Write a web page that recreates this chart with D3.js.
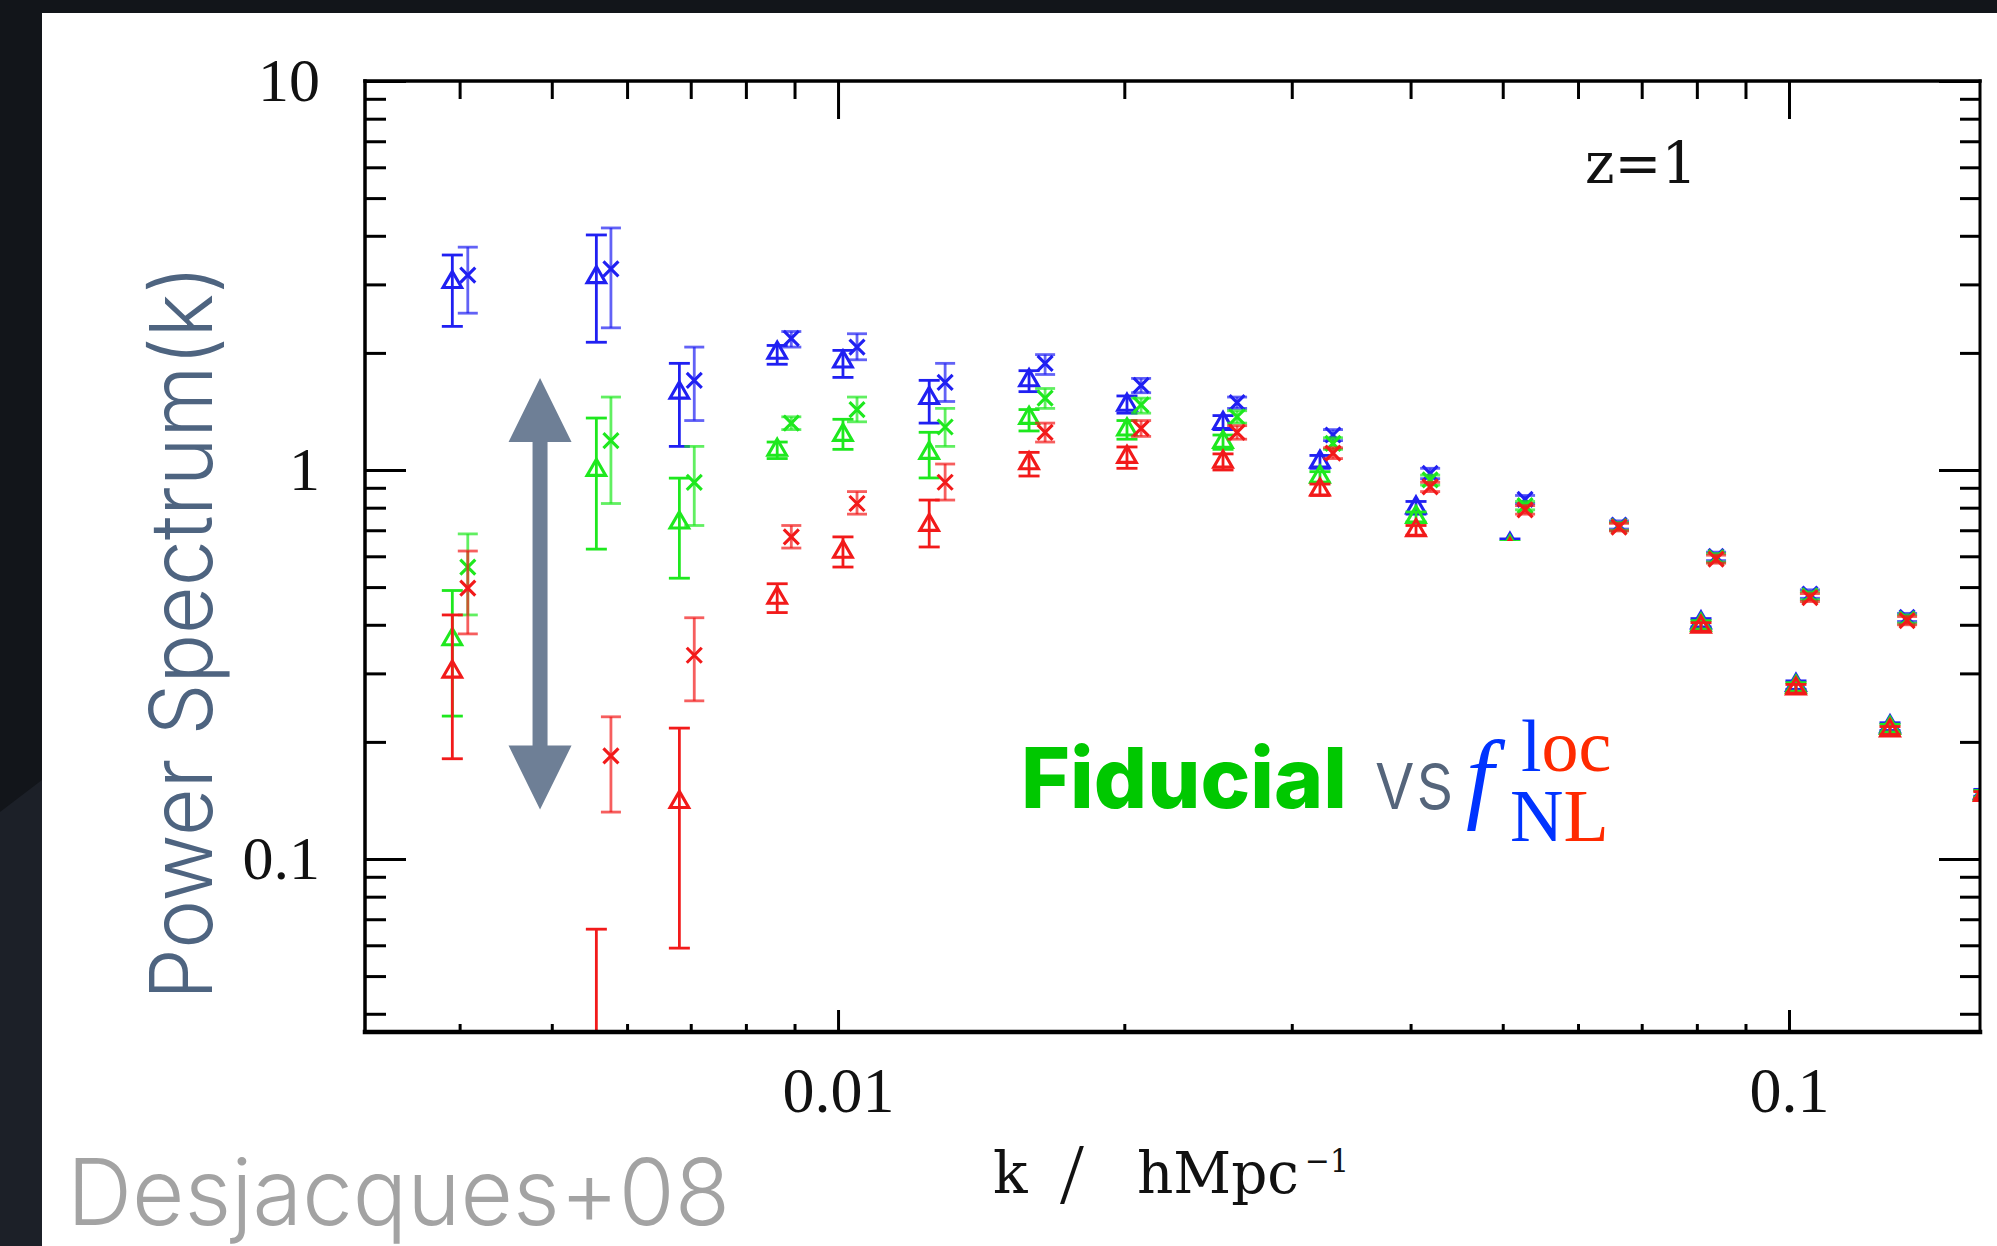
<!DOCTYPE html>
<html>
<head>
<meta charset="utf-8">
<script src="https://cdn.jsdelivr.net/npm/d3@7"></script>
<style>
  body { margin: 0; background: #12151a; }
  svg { display: block; }
</style>
</head>
<body>
<div id="chart"></div>
<script>
// k bins (h/Mpc) : triangles and crosses are two estimators, crosses sit slightly to the right
var kTri   = [0.00393, 0.00557, 0.00681, 0.00863, 0.01012, 0.01247, 0.01588, 0.02013, 0.02540, 0.03212, 0.04053, 0.05088, 0.06422, 0.08081, 0.1017, 0.1277, 0.1603];
var kCross = [0.00408, 0.00577, 0.00706, 0.00893, 0.01047, 0.01296, 0.01651, 0.02083, 0.02628, 0.03315, 0.04194, 0.05278, 0.06626, 0.08381, 0.1052, 0.1331, null];

// triangles (null = hidden behind the label box)
var triBlue    = [3.04, 3.13, 1.58, 2.00, 1.90, 1.53, 1.70, 1.47, 1.32, 1.05, 0.80, 0.645, null, 0.405, 0.280, 0.219, 0.148];
var triBlueLo  = [2.34, 2.13, 1.15, 1.87, 1.73, 1.32, 1.59, 1.40, 1.27, 1.01, 0.77, 0.625, null, 0.395, 0.273, 0.214, 0.145];
var triBlueHi  = [3.57, 4.02, 1.88, 2.09, 2.03, 1.70, 1.80, 1.55, 1.38, 1.09, 0.83, 0.665, null, 0.415, 0.287, 0.224, 0.151];
var triGreen   = [0.367, 1.00, 0.732, 1.126, 1.23, 1.106, 1.36, 1.27, 1.18, 0.96, 0.757, 0.635, null, 0.400, 0.277, 0.217, 0.147];
var triGreenLo = [0.233, 0.626, 0.527, 1.07, 1.13, 0.954, 1.26, 1.20, 1.13, 0.93, 0.735, 0.615, null, 0.390, 0.270, 0.212, 0.144];
var triGreenHi = [0.490, 1.36, 0.953, 1.18, 1.35, 1.25, 1.43, 1.34, 1.23, 0.99, 0.780, 0.655, null, 0.410, 0.284, 0.222, 0.150];
var triRed     = [0.303, 0.020, 0.140, 0.469, 0.616, 0.722, 1.04, 1.08, 1.05, 0.89, 0.70, 0.625, null, 0.395, 0.274, 0.214, 0.146];
var triRedLo   = [0.181, 0.005, 0.059, 0.430, 0.563, 0.634, 0.965, 1.01, 1.00, 0.86, 0.68, 0.605, null, 0.385, 0.267, 0.209, 0.143];
var triRedHi   = [0.424, 0.066, 0.217, 0.510, 0.673, 0.837, 1.11, 1.146, 1.10, 0.92, 0.72, 0.645, null, 0.405, 0.281, 0.219, 0.149];

// crosses
var crossBlue    = [3.17, 3.29, 1.70, 2.18, 2.07, 1.68, 1.88, 1.65, 1.49, 1.23, 0.98, 0.84, 0.722, 0.600, 0.480, 0.418, null];
var crossBlueLo  = [2.53, 2.32, 1.34, 2.07, 1.92, 1.50, 1.76, 1.58, 1.44, 1.19, 0.95, 0.82, 0.705, 0.585, 0.468, 0.408, null];
var crossBlueHi  = [3.74, 4.19, 2.07, 2.27, 2.24, 1.88, 1.98, 1.72, 1.54, 1.27, 1.01, 0.86, 0.740, 0.615, 0.492, 0.428, null];
var crossGreen   = [0.563, 1.19, 0.929, 1.32, 1.43, 1.29, 1.53, 1.47, 1.37, 1.17, 0.943, 0.81, 0.716, 0.595, 0.475, 0.414, null];
var crossGreenLo = [0.424, 0.82, 0.720, 1.27, 1.33, 1.15, 1.44, 1.40, 1.32, 1.13, 0.915, 0.79, 0.700, 0.580, 0.464, 0.404, null];
var crossGreenHi = [0.685, 1.54, 1.150, 1.37, 1.54, 1.44, 1.62, 1.53, 1.42, 1.21, 0.970, 0.83, 0.733, 0.610, 0.486, 0.424, null];
var crossRed     = [0.497, 0.184, 0.334, 0.673, 0.82, 0.930, 1.25, 1.28, 1.25, 1.105, 0.905, 0.79, 0.713, 0.590, 0.470, 0.410, null];
var crossRedLo   = [0.379, 0.132, 0.255, 0.630, 0.77, 0.837, 1.18, 1.22, 1.20, 1.07, 0.880, 0.77, 0.697, 0.576, 0.459, 0.400, null];
var crossRedHi   = [0.619, 0.232, 0.417, 0.720, 0.88, 1.036, 1.32, 1.34, 1.30, 1.14, 0.930, 0.81, 0.729, 0.604, 0.481, 0.420, null];

// tick labels
var xLabelTicks = [0.01, 0.1];
var yLabelTicks = [0.1, 1, 10];

// the grey double arrow (in data units)
var arrowK = 0.00486, arrowTop = 1.724, arrowBottom = 0.134;

var width = 1997, height = 1246;
var plot = {left: 365, right: 1980, top: 81, bottom: 1032};
var colors = {blue: "#2020f2", green: "#1ee81e", red: "#f21a1a"};

var x = d3.scaleLog().domain([0.003181, 0.1588]).range([plot.left, plot.right]);
var y = d3.scaleLog().domain([0.03591, 10]).range([plot.bottom, plot.top]);

var svg = d3.select("#chart").append("svg")
    .attr("width", width)
    .attr("height", height);

// dark slide background and white panel
svg.append("rect").attr("width", width).attr("height", height).attr("fill", "#12151a");
svg.append("path").attr("d", "M0,812L42,780L42,1246L0,1246Z").attr("fill", "#1c2028");
svg.append("rect").attr("x", 42).attr("y", 13).attr("width", width - 42).attr("height", height - 13).attr("fill", "#ffffff");

svg.append("clipPath").attr("id", "plotclip")
  .append("rect")
    .attr("x", plot.left).attr("y", plot.top)
    .attr("width", plot.right - plot.left).attr("height", plot.bottom - plot.top);

var isMajor = function (d) {
    var l = Math.log10(d);
    return Math.abs(l - Math.round(l)) < 1e-6;
};
var xMinor = x.ticks().filter(function (d) { return !isMajor(d); });
var yMinor = y.ticks().filter(function (d) { return !isMajor(d); });

// Draw one series: error bars with caps, then the marker
var drawSeries = function (g, ks, vals, los, his, color, marker) {
    var pts = ks.map(function (k, i) {
        return {k: k, v: vals[i], lo: los[i], hi: his[i]};
    }).filter(function (d) { return d.k !== null && d.v !== null; });

    var cap = marker === "tri" ? 10.5 : 10;
    var grp = g.append("g")
        .attr("stroke", color)
        .attr("fill", "none")
        .attr("stroke-width", 3.1);
    var bars = grp.append("g")
        .attr("stroke-width", 2.8)
        .attr("stroke-opacity", marker === "tri" ? 1 : 0.7);

    bars.selectAll("line.bar").data(pts).enter().append("line")
        .attr("class", "bar")
        .attr("x1", function (d) { return x(d.k); })
        .attr("x2", function (d) { return x(d.k); })
        .attr("y1", function (d) { return y(d.lo); })
        .attr("y2", function (d) { return y(d.hi); });
    ["lo", "hi"].forEach(function (end) {
        bars.selectAll("line.cap" + end).data(pts).enter().append("line")
            .attr("class", "cap" + end)
            .attr("x1", function (d) { return x(d.k) - cap; })
            .attr("x2", function (d) { return x(d.k) + cap; })
            .attr("y1", function (d) { return y(d[end]); })
            .attr("y2", function (d) { return y(d[end]); });
    });

    if (marker === "tri") {
        grp.selectAll("path.mark").data(pts).enter().append("path")
            .attr("class", "mark")
            .attr("d", d3.symbol().type(d3.symbolTriangle).size(150))
            .attr("transform", function (d) { return "translate(" + x(d.k) + "," + y(d.v) + ")"; });
    } else {
        grp.selectAll("path.mark").data(pts).enter().append("path")
            .attr("class", "mark")
            .attr("d", "M-7.5,-7.5L7.5,7.5M-7.5,7.5L7.5,-7.5")
            .attr("transform", function (d) { return "translate(" + x(d.k) + "," + y(d.v) + ")"; });
    }
};

var data = svg.append("g").attr("clip-path", "url(#plotclip)");
drawSeries(data, kTri, triBlue, triBlueLo, triBlueHi, colors.blue, "tri");
drawSeries(data, kCross, crossBlue, crossBlueLo, crossBlueHi, colors.blue, "cross");
drawSeries(data, kTri, triGreen, triGreenLo, triGreenHi, colors.green, "tri");
drawSeries(data, kCross, crossGreen, crossGreenLo, crossGreenHi, colors.green, "cross");
drawSeries(data, kTri, triRed, triRedLo, triRedHi, colors.red, "tri");
drawSeries(data, kCross, crossRed, crossRedLo, crossRedHi, colors.red, "cross");

// white box of the label that hides part of the points
svg.append("rect").attr("x", 1000).attr("y", 541).attr("width", 640).attr("height", 320).attr("fill", "#ffffff");

// axes, ticks point inwards on all four sides
var fmt = function (d) { return String(d); };
var styleAxis = function (g, fontSize) {
    g.select(".domain").remove();
    g.selectAll(".tick line").attr("stroke", "#000").attr("stroke-width", 3);
    g.selectAll(".tick text")
        .attr("fill", "#111")
        .style("font-family", "'Liberation Serif', 'DejaVu Serif', serif")
        .style("font-size", fontSize + "px");
};
var axes = svg.append("g");
axes.append("g").attr("transform", "translate(0," + plot.bottom + ")")
    .call(d3.axisBottom(x).tickValues(xMinor).tickSize(-8).tickFormat(""))
    .call(styleAxis, 64);
axes.append("g").attr("transform", "translate(0," + plot.bottom + ")")
    .call(d3.axisBottom(x).tickValues(xLabelTicks).tickSize(-22).tickPadding(35).tickFormat(fmt))
    .call(styleAxis, 64);
axes.append("g").attr("transform", "translate(0," + plot.top + ")")
    .call(d3.axisTop(x).tickValues(xMinor).tickSize(-18).tickFormat(""))
    .call(styleAxis, 64);
axes.append("g").attr("transform", "translate(0," + plot.top + ")")
    .call(d3.axisTop(x).tickValues(xLabelTicks).tickSize(-38).tickFormat(""))
    .call(styleAxis, 64);
axes.append("g").attr("transform", "translate(" + plot.left + ",0)")
    .call(d3.axisLeft(y).tickValues(yMinor).tickSize(-21).tickFormat(""))
    .call(styleAxis, 62);
axes.append("g").attr("transform", "translate(" + plot.left + ",0)")
    .call(d3.axisLeft(y).tickValues(yLabelTicks).tickSize(-41).tickPadding(45).tickFormat(fmt))
    .call(styleAxis, 62);
axes.append("g").attr("transform", "translate(" + plot.right + ",0)")
    .call(d3.axisRight(y).tickValues(yMinor).tickSize(-20).tickFormat(""))
    .call(styleAxis, 62);
axes.append("g").attr("transform", "translate(" + plot.right + ",0)")
    .call(d3.axisRight(y).tickValues(yLabelTicks).tickSize(-41).tickFormat(""))
    .call(styleAxis, 62);

// frame
var frame = svg.append("g").attr("stroke", "#000").attr("stroke-linecap", "square");
frame.append("line").attr("x1", plot.left).attr("x2", plot.right).attr("y1", plot.top).attr("y2", plot.top).attr("stroke-width", 3.5);
frame.append("line").attr("x1", plot.left).attr("x2", plot.right).attr("y1", plot.bottom).attr("y2", plot.bottom).attr("stroke-width", 4.5);
frame.append("line").attr("x1", plot.left).attr("x2", plot.left).attr("y1", plot.top).attr("y2", plot.bottom).attr("stroke-width", 3.5);
frame.append("line").attr("x1", plot.right).attr("x2", plot.right).attr("y1", plot.top).attr("y2", plot.bottom).attr("stroke-width", 3);

// double arrow
var xa = x(arrowK), yt = y(arrowTop), yb = y(arrowBottom);
var head = 64, hw = 31.5, sw = 7.5;
svg.append("path")
    .attr("d", "M" + xa + "," + yt +
        "L" + (xa + hw) + "," + (yt + head) + "L" + (xa + sw) + "," + (yt + head) +
        "L" + (xa + sw) + "," + (yb - head) + "L" + (xa + hw) + "," + (yb - head) +
        "L" + xa + "," + yb +
        "L" + (xa - hw) + "," + (yb - head) + "L" + (xa - sw) + "," + (yb - head) +
        "L" + (xa - sw) + "," + (yt + head) + "L" + (xa - hw) + "," + (yt + head) + "Z")
    .attr("fill", "#6e7f96");

// texts
var serif = "'Liberation Serif', 'DejaVu Serif', serif";
var slab = "'DejaVu Serif', 'Liberation Serif', serif";
var sans = "Inter, 'Open Sans', sans-serif";

svg.append("text").attr("x", 1585).attr("y", 183)
    .attr("textLength", 112).attr("lengthAdjust", "spacingAndGlyphs")
    .style("font-family", slab).style("font-size", "57px").attr("fill", "#111")
    .text("z=1");

// x axis title, set in pieces to keep the wide spacing
var xTitle = svg.append("g").attr("fill", "#111")
    .style("font-family", slab).style("font-size", "57px");
xTitle.append("text").attr("x", 993).attr("y", 1193).text("k");
xTitle.append("text").attr("x", 1060).attr("y", 1203)
    .style("font-family", serif).style("font-size", "86px").text("/");
xTitle.append("text").attr("x", 1137).attr("y", 1193)
    .attr("textLength", 162).attr("lengthAdjust", "spacingAndGlyphs").text("hMpc");
xTitle.append("text").attr("x", 1305).attr("y", 1172)
    .attr("textLength", 44).attr("lengthAdjust", "spacingAndGlyphs")
    .style("font-size", "32px").text("\u22121");

svg.append("text")
    .attr("transform", "translate(212,1000) rotate(-90)")
    .attr("textLength", 735).attr("lengthAdjust", "spacingAndGlyphs")
    .style("font-family", sans).style("font-weight", 300).style("font-size", "86px")
    .attr("fill", "#4e6480")
    .text("Power Spectrum(k)");

svg.append("text").attr("x", 67).attr("y", 1225)
    .attr("textLength", 663).attr("lengthAdjust", "spacingAndGlyphs")
    .style("font-family", sans).style("font-weight", 300).style("font-size", "92px")
    .attr("fill", "#a3a3a3")
    .text("Desjacques+08");

// "Fiducial vs f_NL^loc"
svg.append("text").attr("x", 1021).attr("y", 808)
    .attr("textLength", 326).attr("lengthAdjust", "spacingAndGlyphs")
    .style("font-family", sans).style("font-weight", 800).style("font-size", "84px")
    .attr("fill", "#00c800")
    .text("Fiducial");
svg.append("text").attr("x", 1374).attr("y", 809)
    .attr("textLength", 80).attr("lengthAdjust", "spacingAndGlyphs")
    .style("font-family", sans).style("font-weight", 300).style("font-size", "84px")
    .attr("fill", "#55657b")
    .text("vs");
svg.append("text").attr("x", 1466).attr("y", 810)
    .style("font-family", serif).style("font-style", "italic").style("font-size", "100px")
    .attr("fill", "#0033ff")
    .text("f");
var sup = svg.append("text").attr("x", 1521).attr("y", 771)
    .style("font-family", serif).style("font-size", "74px");
sup.append("tspan").attr("fill", "#0033ff").text("l");
sup.append("tspan").attr("fill", "#ff2a00").text("oc");
var sub = svg.append("text").attr("x", 1510).attr("y", 841)
    .style("font-family", serif).style("font-size", "74px");
sub.append("tspan").attr("fill", "#0033ff").text("N");
sub.append("tspan").attr("fill", "#ff2a00").text("L");
</script>
</body>
</html>
